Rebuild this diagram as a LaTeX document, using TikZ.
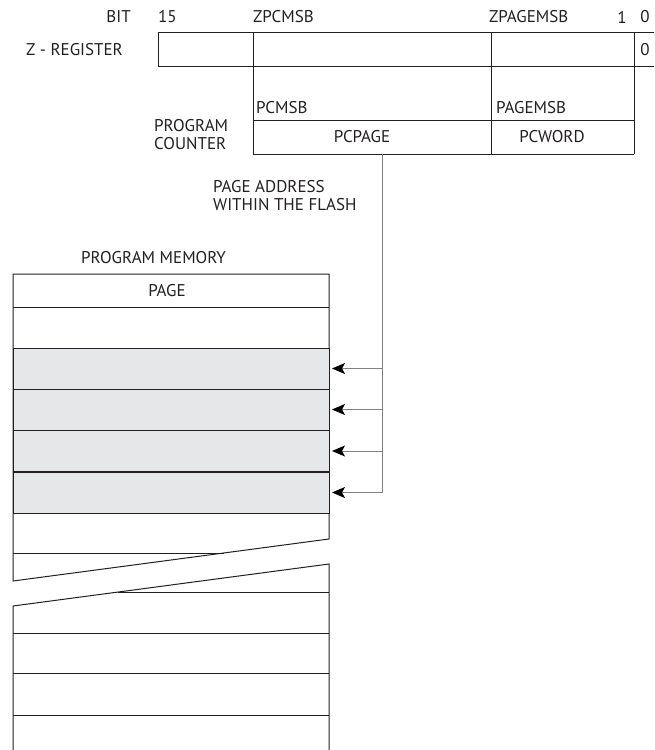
\documentclass[tikz,border=0pt]{standalone}
\usepackage{fontspec}
\setmainfont{PT Sans}
\usetikzlibrary{arrows.meta}
\definecolor{boxline}{HTML}{231F20}
\definecolor{shade}{HTML}{E6E7E8}
\definecolor{wire}{HTML}{7F8285}
\begin{document}
\begin{tikzpicture}[x=1pt,y=-1pt,
  lbl/.style={font=\fontsize{17}{19.5}\selectfont, inner sep=0pt, text=boxline},
  frame/.style={draw=boxline, line width=1pt},
  wireline/.style={draw=wire, line width=0.9pt},
  feed/.style={wireline, -{Stealth[length=13pt,width=11pt,inset=3pt,black]}, shorten >=3pt},
  memrow/.style={draw=boxline, line width=1pt, minimum width=316pt, minimum height=41pt, inner sep=0pt, outer sep=0pt},
]
\useasboundingbox (0,0) rectangle (654,750);
\clip (0,0) rectangle (654,750);

% ---------- header labels ----------
\node[lbl, anchor=east] (bit) at (131,17) {BIT};
\node[lbl, anchor=west] (b15) at (158,17) {15};
\node[lbl, anchor=west] (zpcmsb) at (253,17) {ZPCMSB};
\node[lbl, anchor=west] (zpagemsb) at (489,17) {ZPAGEMSB};
\node[lbl] (b1) at (622,17) {1};
\node[lbl] (b0) at (645,17) {0};

% ---------- Z register ----------
\node[lbl, anchor=east] (zreg) at (123,50) {Z - REGISTER};
\draw[frame] (158,32) rectangle (670,66);
\draw[frame] (253,32) -- (253,66);
\draw[frame] (491,32) -- (491,66);
\draw[frame] (634,32) -- (634,66);
\node[lbl] (zero) at (645,50) {0};

% ---------- program counter ----------
\draw[frame] (253,66) -- (253,154);
\draw[frame] (491,66) -- (491,154);
\draw[frame] (634,66) -- (634,154);
\draw[frame] (253,120) -- (634,120);
\draw[frame] (253,154) -- (634,154);
\node[lbl, anchor=west] (pcmsb) at (256,108) {PCMSB};
\node[lbl, anchor=west] (pagemsb) at (496,108) {PAGEMSB};
\node[lbl, anchor=north west, align=left] (pc) at (154,119) {PROGRAM\\[-1pt]COUNTER};
\node[lbl] (pcpage) at (362,137) {PCPAGE};
\node[lbl] (pcword) at (552,137) {PCWORD};
\coordinate (pcpagebot) at (382,154);

\node[lbl, anchor=north west, align=left] (pageaddr) at (213,180) {PAGE ADDRESS\\[-1pt]WITHIN THE FLASH};

% ---------- program memory ----------
\node[lbl, anchor=west] (progmem) at (81,258) {PROGRAM MEMORY};
\draw[frame] (13,274) -- (329,274) -- (329,539) -- (13,581) -- cycle;
\draw[frame] (13,307) -- (329,307);
\node[lbl] (page) at (167,291) {PAGE};
\node[memrow, fill=shade, minimum height=41pt] (r1) at (171,368.5) {};
\node[memrow, fill=shade, minimum height=41pt] (r2) at (171,409.5) {};
\node[memrow, fill=shade, minimum height=41pt] (r3) at (171,451) {};
\node[memrow, fill=shade, minimum height=41pt] (r4) at (171,492.5) {};
\draw[frame] (13,553) -- (223.7,553);

% lower part after break
\draw[frame] (13,760) -- (13,606) -- (329,564) -- (329,760);
\draw[frame] (118.3,592) -- (329,592);
\draw[frame] (13,633) -- (329,633);
\draw[frame] (13,673) -- (329,673);
\draw[frame] (13,715) -- (329,715);

% ---------- connectors ----------
\coordinate (t1) at (382,368.5);
\coordinate (t2) at (382,409.5);
\coordinate (t3) at (382,451);
\coordinate (t4) at (382,492.5);
\draw[wireline] (pcpagebot) -- (t4);
\draw[feed] (t1) -- (r1.east);
\draw[feed] (t2) -- (r2.east);
\draw[feed] (t3) -- (r3.east);
\draw[feed] (t4) -- (r4.east);
\end{tikzpicture}
\end{document}
